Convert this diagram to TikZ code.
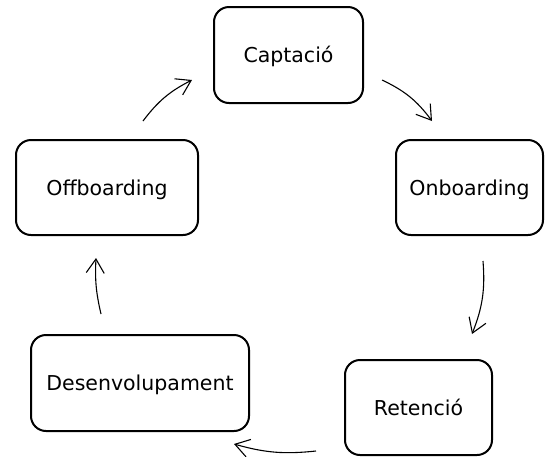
\documentclass[tikz,border=0pt]{standalone}
\usepackage{fontspec}
\setmainfont{DejaVu Sans}
\usetikzlibrary{arrows.meta,calc}
\begin{document}
\begin{tikzpicture}[x=1pt,y=1pt,
  box/.style={draw=black, line width=2pt, rounded corners=15pt, fill=white,
    inner sep=0pt, text height=15pt, text depth=0pt, font=\fontsize{20.5}{24}\selectfont},
  flow/.style={line width=1.1pt, -{Straight Barb[length=14pt,width=18pt,line width=1.1pt]}}]
\useasboundingbox (0,0) rectangle (547,-456);
\node[box, minimum width=149pt, minimum height=96pt] (cap) at (288.5,-55) {Captació};
\node[box, minimum width=147pt, minimum height=95pt] (onb) at (469.5,-187.5) {Onboarding};
\node[box, minimum width=147pt, minimum height=95pt] (ret) at (418.5,-407.5) {Retenció};
\node[box, minimum width=218pt, minimum height=96pt] (des) at (140,-383) {Desenvolupament};
\node[box, minimum width=182pt, minimum height=95pt] (off) at (107,-187.5) {Offboarding};
% arrow end points, placed relative to the boxes
\coordinate (a1s) at ($(off.north)+(36,18)$);
\coordinate (a1e) at ($(cap.west)+(-21,-25)$);
\coordinate (a2s) at ($(cap.south east)+(18,24)$);
\coordinate (a2e) at ($(onb.north west)+(37,18)$);
\coordinate (a3s) at ($(onb.south)+(13.5,-25)$);
\coordinate (a3e) at ($(ret.north)+(53.5,25)$);
\coordinate (a4s) at ($(ret.south west)+(-28,5)$);
\coordinate (a4e) at ($(des.south east)+(-16,-12)$);
\coordinate (a5s) at ($(des.north)+(-39,20)$);
\coordinate (a5e) at ($(off.south)+(-11,-22)$);
\draw[flow] (a1s) to[bend left=13] (a1e);
\draw[flow] (a2s) to[bend left=14] (a2e);
\draw[flow] (a3s) to[bend left=13] (a3e);
\draw[flow] (a4s) to[bend left=11] (a4e);
\draw[flow] (a5s) to[bend left=8] (a5e);
\end{tikzpicture}
\end{document}
